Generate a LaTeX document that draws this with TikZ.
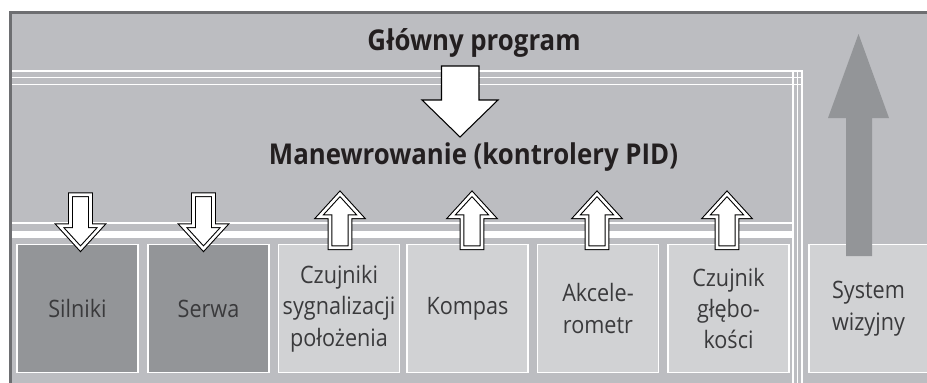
\documentclass[tikz,border=0pt]{standalone}
\usepackage{fontspec}
\setmainfont{Open Sans}[FakeStretch=0.9]
\definecolor{framegray}{HTML}{BCBDC1}
\definecolor{edgegray}{HTML}{6D6E71}
\definecolor{boxdark}{HTML}{939598}
\definecolor{boxlight}{HTML}{D1D2D4}
\definecolor{textgray}{HTML}{3A3A3C}
\definecolor{titleblack}{HTML}{231F20}
\tikzset{
  box/.style={draw=white, line width=1.1pt, inner sep=0pt, minimum width=90.75pt,
    minimum height=96pt, align=center, text=textgray, font=\fontsize{18}{23.6}\selectfont},
  darkbox/.style={box, fill=boxdark},
  lightbox/.style={box, fill=boxlight},
  title/.style={anchor=base, text=titleblack, font=\fontsize{21.5}{26}\selectfont\bfseries},
  rail/.style={white, line width=1.1pt},
  bigarrow/.style={fill=white, draw=black, line width=0.8pt, line join=miter},
  smallarrow/.style={fill=white, draw=black, line width=0.8pt, double=white,
    double distance=2pt, line join=miter},
  pics/blockarrow/.style={code={
    \draw[smallarrow] (0,3.5) -- (21,26.5) -- (10,26.5) -- (10,57.5) -- (-10,57.5)
      -- (-10,26.5) -- (-21,26.5) -- cycle;
  }},
}
\begin{document}
\begin{tikzpicture}[x=0.75pt, y=-0.75pt]
    \useasboundingbox (0,0) rectangle (927,382);

    % Frame
    \fill[framegray] (10,12) rectangle (935,390);
    \draw[edgegray, line width=2.25pt] (10.5,390) -- (10.5,12.5) -- (935,12.5);

    % Rails
    \foreach \y in {71,77.7,84.3} \draw[rail] (12,\y) -- (803,\y);
    \foreach \x in {793,797.5,802} \draw[rail] (\x,70) -- (\x,390);
    \draw[rail] (12,223) -- (793,223);
    \fill[white] (12,231) rectangle (793,238);

    % Boxes
    \node[darkbox] (silniki) at (77.5,308.5) {Silniki};
    \node[darkbox] (serwa) at (208.5,308.5) {Serwa};
    \node[lightbox] (czujniki) at (339,308.5) {Czujniki\\sygnalizacji\\położenia};
    \node[lightbox] (kompas) at (467.5,308.5) {Kompas};
    \node[lightbox] (akcel) at (598,308.5) {Akcele-\\rometr};
    \node[lightbox] (glebokosc) at (728.5,308.5) {Czujnik\\głębo-\\kości};
    \node[lightbox, minimum width=89.25pt] (wizja) at (868.5,308.5) {System\\wizyjny};

    % Labels
    \node[title] (glowny) at (474,50) {Główny program};
    \node[title] (manewr) at (473.5,164) {Manewrowanie (kontrolery PID)};

    % Big arrows
    \draw[bigarrow] (441.5,66) -- (479,66) -- (479,100) -- (498,100) -- (460,137)
      -- (422,100) -- (441.5,100) -- cycle;
    \fill[boxdark] (846,256) -- (846,118) -- (828,118) -- (858.5,34) -- (889,118)
      -- (872,118) -- (872,256) -- cycle;

    % Small arrows
    \pic[rotate=180] at ([shift={(3,8.5)}]silniki.north) {blockarrow};
    \pic[rotate=180] at ([shift={(-5,8.5)}]serwa.north) {blockarrow};
    \pic at ([shift={(1,-53.5)}]czujniki.north) {blockarrow};
    \pic at ([shift={(4.5,-53.5)}]kompas.north) {blockarrow};
    \pic at ([shift={(-1,-53.5)}]akcel.north) {blockarrow};
    \pic at ([shift={(-1.5,-53.5)}]glebokosc.north) {blockarrow};
\end{tikzpicture}
\end{document}
